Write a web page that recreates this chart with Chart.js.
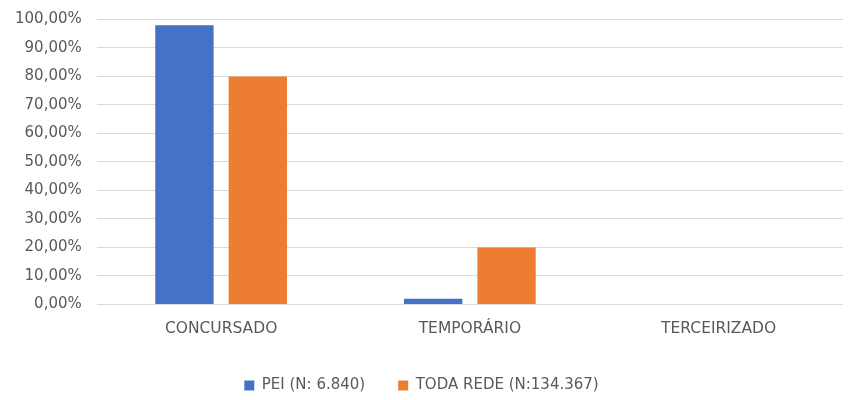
<!DOCTYPE html>
<html>
<head>
<meta charset="utf-8">
<script src="https://cdn.jsdelivr.net/npm/chart.js@4.4.1/dist/chart.umd.min.js"></script>
<style>
    html, body { margin: 0; padding: 0; background: #fff; }
    #wrap { width: 854px; height: 400px; }
</style>
</head>
<body>
<div id="wrap"><canvas id="chart"></canvas></div>
<script>
const categories = ['CONCURSADO', 'TEMPORÁRIO', 'TERCEIRIZADO'];
const peiValues = [98.0, 2.0, 0];
const redeValues = [80.0, 20.0, 0];
const seriesNames = ['PEI (N: 6.840)', 'TODA REDE (N:134.367)'];

const FONT = 'DejaVu Sans';

new Chart(document.getElementById('chart'), {
    type: 'bar',
    data: {
        labels: categories,
        datasets: [
            { label: seriesNames[0], data: peiValues, backgroundColor: '#4472c4', categoryPercentage: 0.59, barPercentage: 0.795 },
            { label: seriesNames[1], data: redeValues, backgroundColor: '#ed7d31', categoryPercentage: 0.59, barPercentage: 0.795 },
        ],
    },
    options: {
        responsive: true,
        maintainAspectRatio: false,
        animation: false,
        layout: { padding: { left: 0, right: 11, top: 0, bottom: -3 } },
        scales: {
            x: {
                grid: { display: false },
                border: { display: false },
                ticks: { color: '#595959', font: { family: FONT, size: 15.5 }, padding: 7 },
            },
            y: {
                min: 0,
                max: 100,
                ticks: {
                    stepSize: 10,
                    color: '#595959',
                    padding: 15,
                    font: { family: FONT, size: 15, lineHeight: 0.6 },
                    callback: (v) => v.toFixed(2).replace('.', ',') + '%',
                },
                grid: { color: '#d9d9d9', drawTicks: false },
                border: { display: false },
            },
        },
        plugins: {
            legend: {
                position: 'bottom',
                labels: { color: '#595959', font: { family: FONT, size: 15 }, boxWidth: 10, boxHeight: 10, padding: 33 },
            },
            tooltip: { enabled: false },
        },
    },
});
</script>
</body>
</html>
